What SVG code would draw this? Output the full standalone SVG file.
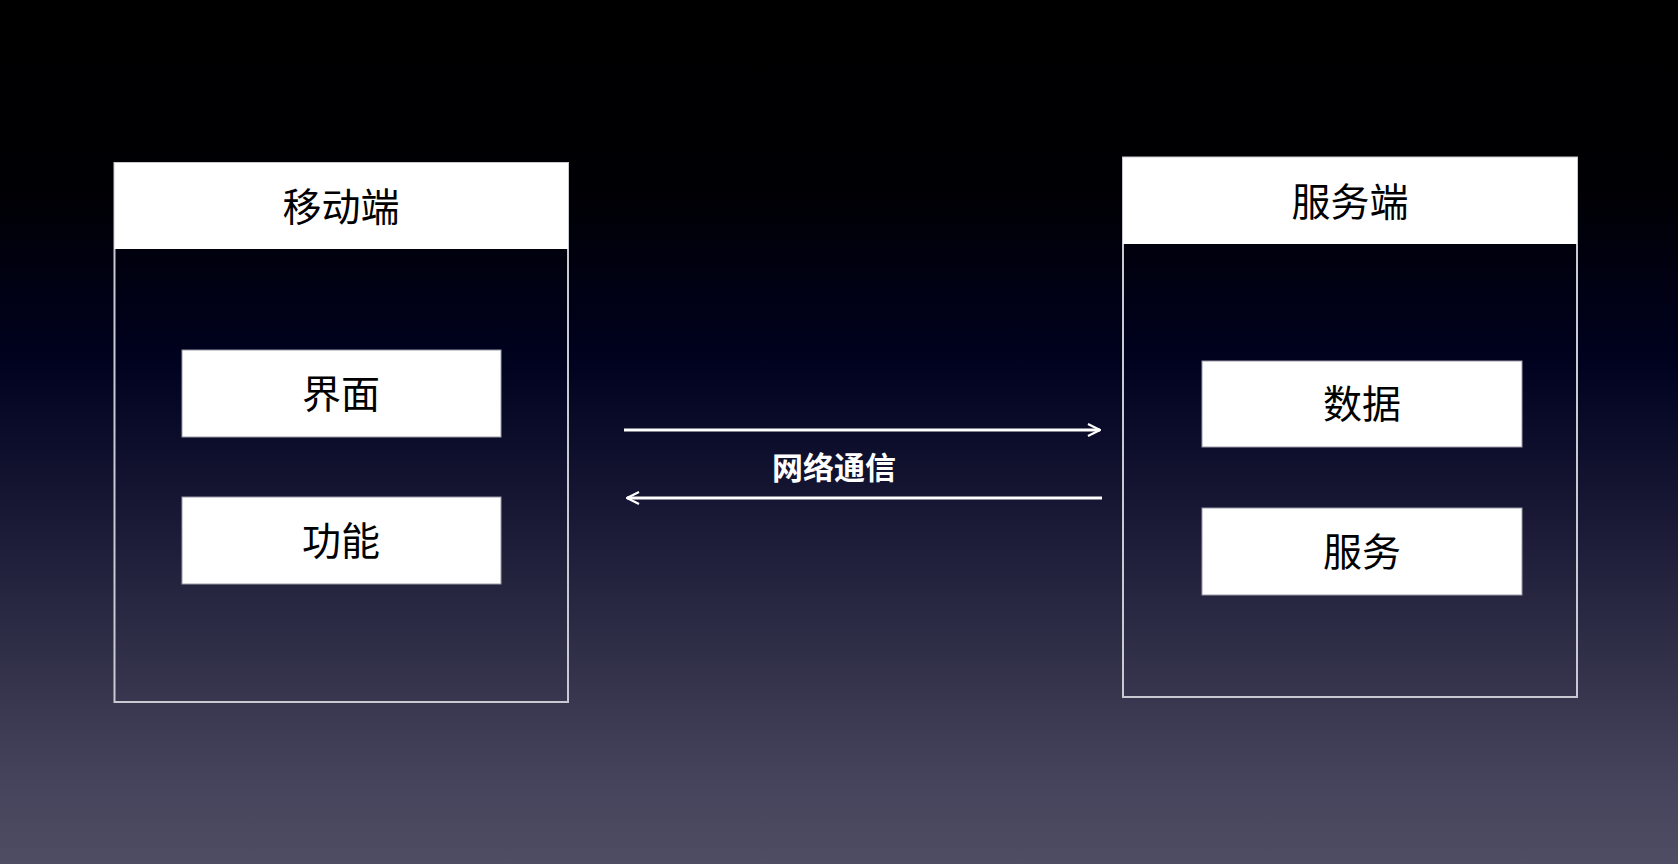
<svg xmlns="http://www.w3.org/2000/svg" width="1678" height="864" viewBox="0 0 1678 864">
<defs>
<linearGradient id="bg" x1="0" y1="0" x2="0" y2="1">
<stop offset="0" stop-color="#000000"/>
<stop offset="0.22" stop-color="#000004"/>
<stop offset="0.42" stop-color="#00021f"/>
<stop offset="0.6" stop-color="#191936"/>
<stop offset="0.74" stop-color="#2e2d46"/>
<stop offset="0.9" stop-color="#44435b"/>
<stop offset="1" stop-color="#4f4d64"/>
</linearGradient>
<marker id="ah" viewBox="0 0 14 14" refX="13" refY="7" markerWidth="14" markerHeight="14" markerUnits="userSpaceOnUse" orient="auto-start-reverse">
<path d="M1,1 L13,7 L1,13" fill="none" stroke="#ffffff" stroke-width="2.2"/>
</marker>
<style>
.outer{fill:none;stroke:#c9c9d2;stroke-width:2}
.head{fill:#ffffff}
.inner{fill:#ffffff;stroke:#9a9aa6;stroke-width:1}
.t{font-family:"Noto Sans CJK SC","Noto Sans",sans-serif;fill:#000000;text-anchor:middle}
.big{font-size:39px}
.lab{font-family:"Noto Sans CJK SC","Noto Sans",sans-serif;fill:#ffffff;font-size:31px;font-weight:bold;text-anchor:middle}
.conn{stroke:#ffffff;stroke-width:3;fill:none}
</style>
</defs>
<rect x="0" y="0" width="1678" height="864" fill="url(#bg)"/>
<g id="mobile">
<rect class="outer" x="114.5" y="163" width="453.5" height="539"/>
<rect class="head" x="114.5" y="163" width="453.5" height="86"/>
<text class="t big" x="341" y="221">移动端</text>
</g>
<g id="ui">
<rect class="inner" x="182" y="350" width="319" height="87"/>
<text class="t big" x="341" y="408">界面</text>
</g>
<g id="func">
<rect class="inner" x="182" y="497" width="319" height="87"/>
<text class="t big" x="341" y="555">功能</text>
</g>
<g id="server">
<rect class="outer" x="1123" y="157.5" width="454" height="539.5"/>
<rect class="head" x="1123" y="157.5" width="454" height="86.5"/>
<text class="t big" x="1350" y="216">服务端</text>
</g>
<g id="data">
<rect class="inner" x="1202" y="361" width="320" height="86"/>
<text class="t big" x="1362" y="418">数据</text>
</g>
<g id="service">
<rect class="inner" x="1202" y="508" width="320" height="87"/>
<text class="t big" x="1362" y="566">服务</text>
</g>
<g id="connectors">
<line class="conn" x1="624" y1="430" x2="1100" y2="430" marker-end="url(#ah)"/>
<line class="conn" x1="1102" y1="498" x2="627" y2="498" marker-end="url(#ah)"/>
<text class="lab" x="834" y="479">网络通信</text>
</g>
</svg>
